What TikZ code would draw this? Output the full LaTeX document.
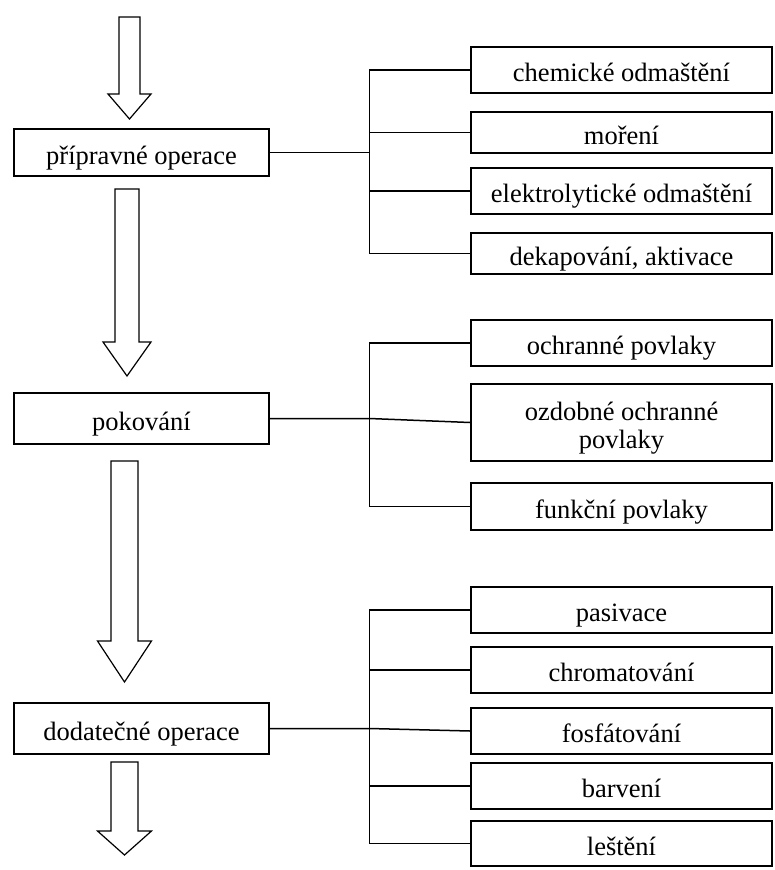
\documentclass[tikz,border=0pt]{standalone}
\usepackage{fontspec}
\setmainfont{Liberation Serif}

\tikzset{
  pics/blockarrow/.style args={#1,#2,#3,#4}{
     code={
        \draw[line width=1.2pt] (-#1,0) -- (#1,0) -- (#1,#3) -- (#2,#3) -- (0,{#3+#4}) -- (-#2,#3) -- (-#1,#3) -- cycle;
     }
  },
  opbox/.style={draw, line width=1.8pt, inner sep=0pt, minimum width=255pt, text height=25pt, text depth=2pt, font=\fontsize{26.5}{28}\selectfont},
  subbox/.style={opbox, minimum width=301pt}
}

\begin{document}
\begin{tikzpicture}[x=1pt, y=-1pt, line width=1.5pt]
            \useasboundingbox (0,0) rectangle (774,870);
            \coordinate (trunk) at (369.5,0);

            \node[opbox, minimum height=47pt] (prip) at (141.5,152.5) {přípravné operace};
            \node[opbox, minimum height=51pt] (pok) at (141.5,418.5) {pokování};
            \node[opbox, minimum height=51pt] (dod) at (141.5,728.5) {dodatečné operace};

            \node[subbox, minimum height=46pt] (chem) at (621.5,70) {chemické odmaštění};
            \node[subbox, minimum height=41pt] (moreni) at (621.5,132.5) {moření};
            \node[subbox, minimum height=46pt] (elektro) at (621.5,191) {elektrolytické odmaštění};
            \node[subbox, minimum height=41pt] (dekap) at (621.5,253.5) {dekapování, aktivace};

            \node[subbox, minimum height=46pt] (ochr) at (621.5,343) {ochranné povlaky};
            \node[subbox, minimum height=77pt, align=center, text height=53pt] (ozd) at (621.5,422.5) {ozdobné ochranné\\povlaky};
            \node[subbox, minimum height=47pt] (funk) at (621.5,506.5) {funkční povlaky};

            \node[subbox, minimum height=46pt] (pas) at (621.5,610) {pasivace};
            \node[subbox, minimum height=46pt] (chrom) at (621.5,670) {chromatování};
            \node[subbox, minimum height=46pt] (fosf) at (621.5,731) {fosfátování};
            \node[subbox, minimum height=46pt] (barv) at (621.5,786) {barvení};
            \node[subbox, minimum height=45pt] (lest) at (621.5,843.5) {leštění};

            \draw (129.5,17) pic{blockarrow={10.5,21.5,77,25}};
            \draw (127,189) pic{blockarrow={12,24,153,34}};
            \draw (124.5,461) pic{blockarrow={13.5,27,180,41}};
            \draw (124.5,762) pic{blockarrow={13.5,27,69,24}};

            \draw (chem.west) -- (chem.west -| trunk) -- (dekap.west -| trunk) -- (dekap.west);
            \draw (moreni.west) -- (moreni.west -| trunk);
            \draw (elektro.west) -- (elektro.west -| trunk);
            \draw (prip.east) -- (prip.east -| trunk);

            \draw (ochr.west) -- (ochr.west -| trunk) -- (funk.west -| trunk) -- (funk.west);
            \draw (pok.east) -- (pok.east -| trunk) -- (ozd.west);

            \draw (pas.west) -- (pas.west -| trunk) -- (lest.west -| trunk) -- (lest.west);
            \draw (chrom.west) -- (chrom.west -| trunk);
            \draw (dod.east) -- (dod.east -| trunk) -- (fosf.west);
            \draw (barv.west) -- (barv.west -| trunk);
        \end{tikzpicture}
\end{document}
